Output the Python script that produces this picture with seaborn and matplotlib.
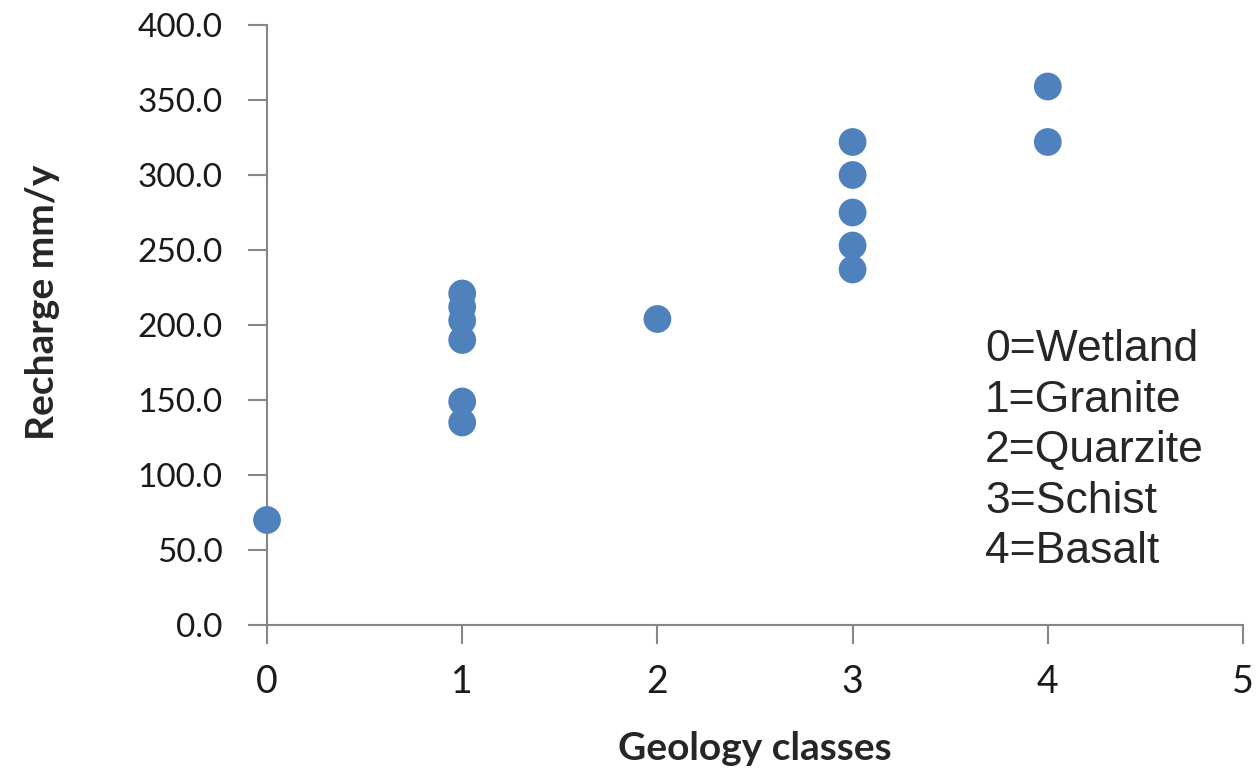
import matplotlib
matplotlib.use("Agg")
import matplotlib.pyplot as plt
import seaborn as sns
import pandas as pd

geology_class = [0, 1, 1, 1, 1, 1, 1, 2, 3, 3, 3, 3, 3, 4, 4]
recharge = [70.0, 221.0, 212.0, 203.0, 190.0, 149.0, 135.0, 204.0,
            322.0, 300.0, 275.0, 253.0, 237.0, 359.0, 322.0]
legend_lines = ["0=Wetland", "1=Granite", "2=Quarzite", "3=Schist", "4=Basalt"]
y_ticks = [0, 50, 100, 150, 200, 250, 300, 350, 400]
x_ticks = [0, 1, 2, 3, 4, 5]

df = pd.DataFrame({"Geology classes": geology_class, "Recharge mm/y": recharge})

sns.set_style("white")
plt.rcParams["font.family"] = ["Lato", "DejaVu Sans"]

fig = plt.figure(figsize=(12.57, 7.75), dpi=100)
ax = fig.add_axes([267 / 1257, 1 - 625 / 775, (1243 - 267) / 1257, 600 / 775])

sns.scatterplot(data=df, x="Geology classes", y="Recharge mm/y", ax=ax,
                color="#4F81BD", s=400, edgecolor="none", zorder=3, clip_on=False)

ax.set_xlim(0, 5)
ax.set_ylim(0, 400)
ax.set_xticks(x_ticks)
ax.set_yticks(y_ticks)
ax.set_yticklabels([f"{v:.1f}" for v in y_ticks])

for side in ["top", "right"]:
    ax.spines[side].set_visible(False)
for side in ["left", "bottom"]:
    ax.spines[side].set_color("#868686")
    ax.spines[side].set_linewidth(1.5)

ax.tick_params(axis="both", direction="out", length=14, width=1.5, color="#868686",
               labelcolor="#1a1a1a", bottom=True, left=True)
ax.tick_params(axis="x", pad=14, labelsize=27)
ax.tick_params(axis="y", pad=18, labelsize=24)

ax.set_xlabel("Geology classes", fontsize=28, fontweight="bold")
ax.set_ylabel("Recharge mm/y", fontsize=28, fontweight="bold")
ax.xaxis.set_label_coords(0.5, (625 - 731) / 600)
ax.yaxis.set_label_coords((60 - 267) / 976, (625 - 302) / 600)

fig.text(985 / 1257, 1 - 329 / 775, "\n".join(legend_lines), fontsize=32,
         family="Liberation Sans", va="top", ha="left", linespacing=1.30,
         transform=fig.transFigure)

fig.savefig("out.png", dpi=100)
